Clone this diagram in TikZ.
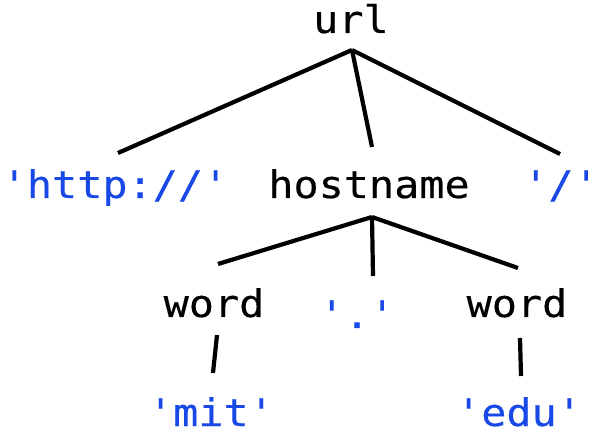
\documentclass[tikz,border=0pt]{standalone}
\usepackage{fontspec}
\newfontfamily\codefont{DejaVu Sans Mono}[FakeStretch=1.1,FakeBold=0.4]
\definecolor{litblue}{RGB}{24,72,230}
\begin{document}
\begin{tikzpicture}[x=1pt,y=1pt,
  lbl/.style={anchor=base,inner sep=0pt,font=\codefont\fontsize{38}{40}\selectfont},
  rule/.style={lbl,text=black},
  lit/.style={lbl,text=litblue},
  conn/.style={draw=black,line width=4.2pt}]
\useasboundingbox (0,0) rectangle (608,442);
% nodes (base positions; y = 442 - pixel row)
\node[rule] (url)  at (351,409) {url};
\node[lit]  (http) at (115,244) {'http://'};
\node[rule] (host) at (369,244) {hostname};
\node[lit]  (slash) at (561,244) {'/'};
\node[rule] (wl)   at (214,125) {word};
\node[lit]  (dot)  at (357,114) {'.'};
\node[rule] (wr)   at (517,125) {word};
\node[lit]  (mit)  at (211,16) {'mit'};
\node[lit]  (edu)  at (519,16) {'edu'};
% connectors
\draw[conn] ([shift={(1,-17)}]url.base) -- ([shift={(3,45)}]http.base);
\draw[conn] ([shift={(1,-17)}]url.base) -- ([shift={(3,51)}]host.base);
\draw[conn] ([shift={(1,-17)}]url.base) -- ([shift={(-1,44)}]slash.base);
\draw[conn] ([shift={(3,-19)}]host.base) -- ([shift={(4,53)}]wl.base);
\draw[conn] ([shift={(3,-19)}]host.base) -- ([shift={(16,52)}]dot.base);
\draw[conn] ([shift={(3,-19)}]host.base) -- ([shift={(1,49)}]wr.base);
\draw[conn] ([shift={(3,-18)}]wl.base) -- ([shift={(2,53)}]mit.base);
\draw[conn] ([shift={(3,-21)}]wr.base) -- ([shift={(2,50)}]edu.base);
\end{tikzpicture}
\end{document}
